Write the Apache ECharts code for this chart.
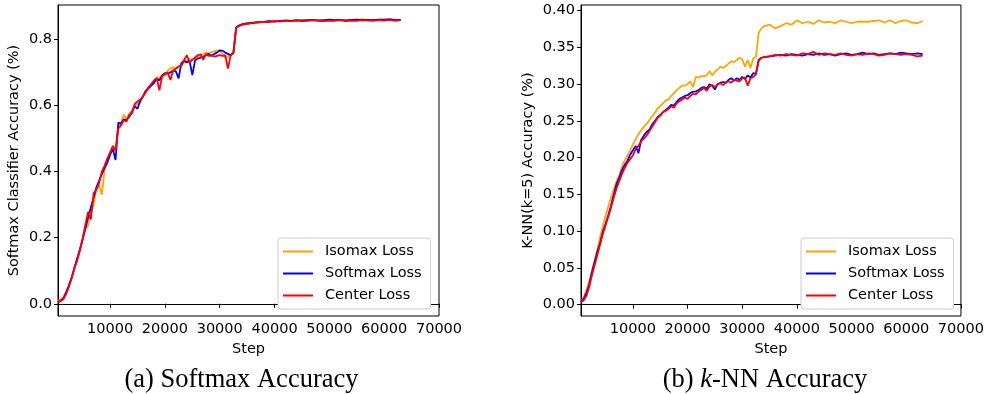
<!DOCTYPE html>
<html>
<head>
<meta charset="utf-8">
<script src="https://cdn.jsdelivr.net/npm/echarts@6/dist/echarts.min.js"></script>
<style>
  html, body { margin: 0; padding: 0; background: #fff; }
  #chart { width: 987px; height: 394px; }
</style>
</head>
<body>
<div id="chart"></div>
<script>
// training steps (shared by both panels)
var steps = [
  500,1000,1500,2000,2500,3000,3500,4000,4500,5000,
  5500,6000,6500,7000,7500,8000,8500,9000,9500,10000,
  10500,11000,11500,12000,12500,13000,13500,14000,14500,15000,
  15500,16000,16500,17000,17500,18000,18500,19000,19500,20000,
  20500,21000,21500,22000,22500,23000,23500,24000,24500,25000,
  25500,26000,26500,27000,27500,28000,28500,29000,29500,30000,
  30500,31000,31500,32000,32500,33000,33500,
  34000,35000,36000,37000,38000,39000,40000,41000,42000,43000,
  44000,45000,46000,47000,48000,49000,50000,51000,52000,53000,
  54000,55000,56000,57000,58000,59000,60000,61000,62000,63000
];

// (a) softmax classifier accuracy
var softIsomax = [
  0.008,0.014,0.020,0.036,0.055,0.078,0.105,0.135,0.162,0.196,
  0.226,0.236,0.278,0.300,0.345,0.360,0.330,0.405,0.425,0.448,
  0.470,0.474,0.535,0.548,0.572,0.560,0.575,0.585,0.600,0.605,
  0.612,0.625,0.640,0.650,0.662,0.675,0.685,0.682,0.694,0.690,
  0.705,0.712,0.715,0.710,0.718,0.722,0.730,0.735,0.740,0.738,
  0.742,0.748,0.752,0.755,0.760,0.758,0.762,0.764,0.766,0.768,
  0.755,0.745,0.748,0.755,0.760,0.834,0.841,
  0.846,0.849,0.851,0.853,0.852,0.855,0.856,0.855,0.858,0.857,
  0.856,0.859,0.858,0.857,0.860,0.858,0.857,0.859,0.858,0.860,
  0.858,0.859,0.861,0.859,0.858,0.860,0.861,0.859,0.860,0.859
];
var softSoftmax = [
  0.005,0.010,0.016,0.035,0.056,0.080,0.108,0.138,0.165,0.195,
  0.228,0.262,0.292,0.322,0.352,0.372,0.392,0.412,0.428,0.452,
  0.468,0.435,0.548,0.545,0.558,0.556,0.566,0.580,0.598,0.590,
  0.614,0.628,0.645,0.652,0.660,0.668,0.680,0.676,0.690,0.698,
  0.696,0.700,0.706,0.703,0.682,0.728,0.736,0.730,0.735,0.692,
  0.736,0.742,0.745,0.748,0.752,0.756,0.750,0.756,0.760,0.766,
  0.766,0.760,0.756,0.752,0.758,0.836,0.842,
  0.845,0.848,0.850,0.852,0.853,0.855,0.854,0.856,0.857,0.856,
  0.858,0.857,0.858,0.859,0.857,0.858,0.860,0.858,0.859,0.857,
  0.859,0.860,0.858,0.859,0.858,0.860,0.859,0.861,0.858,0.859
];
var softCenter = [
  0.004,0.008,0.014,0.030,0.052,0.078,0.110,0.130,0.162,0.198,
  0.240,0.278,0.255,0.335,0.345,0.365,0.400,0.418,0.440,0.458,
  0.478,0.462,0.530,0.540,0.555,0.552,0.572,0.576,0.605,0.612,
  0.618,0.628,0.640,0.655,0.665,0.675,0.683,0.646,0.688,0.695,
  0.700,0.677,0.705,0.712,0.718,0.720,0.738,0.752,0.730,0.738,
  0.745,0.752,0.755,0.738,0.756,0.750,0.752,0.748,0.750,0.752,
  0.750,0.752,0.712,0.752,0.760,0.836,0.840,
  0.844,0.847,0.849,0.851,0.853,0.852,0.855,0.854,0.856,0.855,
  0.857,0.855,0.856,0.858,0.856,0.855,0.857,0.856,0.858,0.855,
  0.857,0.856,0.858,0.857,0.856,0.858,0.857,0.859,0.856,0.858
];

// (b) k-NN (k=5) accuracy
var knnIsomax = [
  0.004,0.010,0.020,0.032,0.046,0.061,0.076,0.092,0.107,0.121,
  0.134,0.146,0.157,0.168,0.176,0.188,0.196,0.203,0.210,0.218,
  0.225,0.232,0.237,0.242,0.246,0.251,0.256,0.261,0.267,0.270,
  0.274,0.278,0.279,0.284,0.288,0.292,0.295,0.298,0.298,0.300,
  0.304,0.296,0.310,0.309,0.311,0.311,0.312,0.318,0.312,0.317,
  0.320,0.324,0.322,0.325,0.328,0.331,0.330,0.333,0.336,0.334,
  0.324,0.333,0.322,0.335,0.337,0.370,0.376,
  0.379,0.381,0.376,0.379,0.383,0.381,0.387,0.383,0.385,0.382,
  0.387,0.384,0.385,0.383,0.387,0.385,0.383,0.385,0.385,0.385,
  0.386,0.387,0.384,0.387,0.383,0.386,0.387,0.384,0.383,0.386
];
var knnSoftmax = [
  0.004,0.008,0.016,0.027,0.044,0.058,0.072,0.084,0.099,0.110,
  0.122,0.135,0.150,0.164,0.173,0.183,0.190,0.196,0.204,0.210,
  0.216,0.206,0.224,0.230,0.235,0.238,0.245,0.250,0.255,0.258,
  0.262,0.265,0.268,0.272,0.271,0.276,0.280,0.282,0.284,0.285,
  0.288,0.290,0.290,0.292,0.295,0.296,0.294,0.300,0.298,0.293,
  0.300,0.302,0.303,0.302,0.306,0.308,0.305,0.308,0.306,0.310,
  0.307,0.312,0.309,0.315,0.314,0.333,0.336,
  0.337,0.338,0.339,0.340,0.339,0.341,0.340,0.339,0.341,0.340,
  0.342,0.340,0.341,0.339,0.341,0.342,0.340,0.341,0.343,0.341,
  0.342,0.340,0.341,0.342,0.341,0.343,0.342,0.341,0.342,0.341
];
var knnCenter = [
  0.003,0.006,0.012,0.024,0.040,0.054,0.068,0.082,0.096,0.108,
  0.120,0.132,0.146,0.158,0.168,0.178,0.186,0.193,0.198,0.203,
  0.212,0.216,0.222,0.226,0.230,0.236,0.242,0.248,0.254,0.257,
  0.262,0.264,0.266,0.270,0.268,0.274,0.277,0.279,0.282,0.280,
  0.284,0.287,0.286,0.290,0.292,0.295,0.291,0.297,0.299,0.296,
  0.300,0.301,0.299,0.302,0.304,0.302,0.306,0.305,0.304,0.308,
  0.309,0.298,0.308,0.310,0.313,0.332,0.336,
  0.337,0.338,0.340,0.339,0.341,0.340,0.339,0.342,0.341,0.344,
  0.340,0.342,0.341,0.340,0.342,0.340,0.339,0.341,0.340,0.342,
  0.341,0.339,0.340,0.342,0.341,0.340,0.341,0.340,0.338,0.339
];

var seriesNames = ['Isomax Loss', 'Softmax Loss', 'Center Loss'];
var xTicks = [10000, 20000, 30000, 40000, 50000, 60000, 70000];
var yTicksA = [0, 0.2, 0.4, 0.6, 0.8];
var yTicksB = [0, 0.05, 0.10, 0.15, 0.20, 0.25, 0.30, 0.35, 0.40];

var FONT = 'DejaVu Sans';
var SERIF = 'Liberation Serif';
var colors = ['#FFA500', '#0000FF', '#FF0000'];

function pairs(ys) {
  return steps.map(function (s, i) { return [s, ys[i]]; });
}

function xAxis(gi) {
  return {
    type: 'value', gridIndex: gi, min: 500, max: 70000,
    name: 'Step', nameLocation: 'middle', nameGap: 24,
    nameTextStyle: { fontFamily: FONT, fontSize: 14.5, color: '#000' },
    axisLine: { show: true, lineStyle: { color: '#000', width: 1 } },
    axisTick: { show: true, length: 4, customValues: xTicks, lineStyle: { color: '#000' } },
    axisLabel: {
      customValues: xTicks, fontFamily: FONT, fontSize: 14.5, color: '#000', margin: 6,
      formatter: function (v) { return String(v); }
    },
    splitLine: { show: false }
  };
}

function yAxis(gi, min, max, ticks, digits, name, gap) {
  return {
    type: 'value', gridIndex: gi, min: min, max: max,
    name: name, nameLocation: 'middle', nameGap: gap,
    nameTextStyle: { fontFamily: FONT, fontSize: 14.5, color: '#000' },
    axisLine: { show: true, onZero: false, lineStyle: { color: '#000', width: 1 } },
    axisTick: { show: true, length: 4, customValues: ticks, lineStyle: { color: '#000' } },
    axisLabel: {
      customValues: ticks, fontFamily: FONT, fontSize: 14.5, color: '#000', margin: 6,
      formatter: function (v) { return v.toFixed(digits); }
    },
    splitLine: { show: false }
  };
}

function legend(left) {
  return {
    data: seriesNames, orient: 'vertical', left: left, top: 238,
    padding: [6, 9, 6, 5], itemGap: 7, itemWidth: 30, itemHeight: 2,
    icon: 'rect',
    borderColor: '#cccccc', borderWidth: 1, borderRadius: 3,
    backgroundColor: '#fff',
    textStyle: { fontFamily: FONT, fontSize: 14.5, color: '#000', padding: [0, 0, 0, 7] }
  };
}

var lists = [[softIsomax, softSoftmax, softCenter], [knnIsomax, knnSoftmax, knnCenter]];
var series = [];
lists.forEach(function (group, gi) {
  group.forEach(function (ys, k) {
    series.push({
      name: seriesNames[k], type: 'line',
      xAxisIndex: gi, yAxisIndex: gi,
      data: pairs(ys), symbol: 'none', animation: false,
      lineStyle: { color: colors[k], width: 1.8 },
      itemStyle: { color: colors[k] }
    });
  });
});

var chart = echarts.init(document.getElementById('chart'));
chart.setOption({
  animation: false,
  grid: [
    { left: 58, top: 5, width: 381, height: 311, show: true, borderColor: '#000', borderWidth: 1 },
    { left: 581, top: 5, width: 381, height: 311, show: true, borderColor: '#000', borderWidth: 1 }
  ],
  xAxis: [xAxis(0), xAxis(1)],
  yAxis: [
    yAxis(0, -0.037, 0.904, yTicksA, 1, 'Softmax Classifier Accuracy (%)', 36),
    yAxis(1, -0.0155, 0.4078, yTicksB, 2, 'K-NN(k=5) Accuracy (%)', 45)
  ],
  legend: [legend(278), legend(801)],
  graphic: [
    {
      type: 'text', x: 241.5, y: 380,
      style: {
        text: '(a) Softmax Accuracy', align: 'center', verticalAlign: 'middle',
        fontFamily: SERIF, fontSize: 26.5, fill: '#000'
      }
    },
    {
      type: 'text', x: 765, y: 380,
      style: {
        text: '{n|(b) }{i|k}{n|-NN Accuracy}', align: 'center', verticalAlign: 'middle',
        rich: {
          n: { fontFamily: SERIF, fontSize: 26.5, fill: '#000' },
          i: { fontFamily: SERIF, fontSize: 26.5, fontStyle: 'italic', fill: '#000' }
        }
      }
    }
  ],
  series: series
});
</script>
</body>
</html>
